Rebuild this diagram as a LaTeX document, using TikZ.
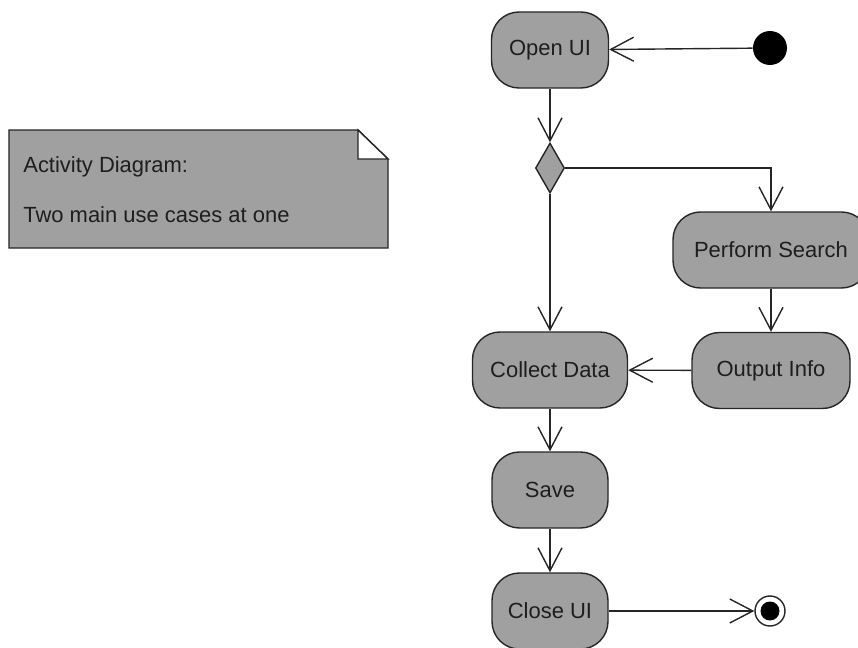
\documentclass[tikz,border=0pt]{standalone}
\usepackage{fontspec}
\setmainfont{Liberation Sans}
\usepackage{tikz}
\usetikzlibrary{arrows.meta,shapes.geometric}
\definecolor{adgray}{HTML}{A0A0A0}
\definecolor{adline}{HTML}{262626}
\definecolor{adtext}{HTML}{1E1E1E}
\tikzset{
  act/.style={draw=adline, fill=adgray, rounded corners=0.55cm, line width=0.8pt,
              minimum height=1.52cm, inner sep=0pt, text=adtext,
              font=\fontsize{12.5}{15}\selectfont},
  decide/.style={diamond, draw=adline, fill=adgray, line width=0.8pt,
                 minimum width=0.58cm, minimum height=1cm, inner sep=0pt},
  startdot/.style={circle, fill=black, minimum size=0.68cm, inner sep=0pt},
  enddot/.style={circle, draw=adline, fill=white, line width=0.8pt,
                 minimum size=0.6cm, inner sep=0pt},
  flow/.style={-{Straight Barb[length=0.46cm, width=0.48cm]}, draw=adline, line width=0.8pt},
  notetxt/.style={anchor=base west, inner sep=0pt, text=adtext,
                  font=\fontsize{12.5}{15}\selectfont},
}

\begin{document}
\begin{tikzpicture}
  \useasboundingbox (0,0) rectangle (17.16,-12.96);

  % note
  \draw[draw=adline, fill=adgray, line width=0.8pt]
    (0.18,-2.6) -- (7.16,-2.6) -- (7.76,-3.18) -- (7.76,-4.96) -- (0.18,-4.96) -- cycle;
  \draw[draw=adline, fill=white, line width=0.8pt]
    (7.16,-2.6) -- (7.16,-3.18) -- (7.76,-3.18) -- cycle;
  \node[notetxt] (notehead) at (0.46,-3.44) {Activity Diagram:};
  \node[notetxt] (notebody) at (0.46,-4.44) {Two main use cases at one};

  % activities
  \node[startdot] (init) at (15.4,-0.96) {};
  \node[act, minimum width=2.34cm] (open) at (11.0,-1.0) {Open UI};
  \node[decide] (dec) at (11.0,-3.36) {};
  \node[act, minimum width=3.92cm] (search) at (15.42,-5.0) {Perform Search};
  \node[act, minimum width=3.16cm] (output) at (15.42,-7.41) {Output Info};
  \node[act, minimum width=3.1cm] (collect) at (11.0,-7.4) {Collect Data};
  \node[act, minimum width=2.32cm] (save) at (11.0,-9.8) {Save};
  \node[act, minimum width=2.32cm] (close) at (11.0,-12.22) {Close UI};
  \node[enddot] (final) at (15.4,-12.22) {};
  \fill[black] (final.center) circle (0.19cm);

  \draw[flow] (init) -- (open);
  \draw[flow] (open) -- (dec);
  \draw[flow] (dec.east) -| (search.north);
  \draw[flow] (dec.south) -- (collect.north);
  \draw[flow] (search) -- (output);
  \draw[flow] (output) -- (collect);
  \draw[flow] (collect) -- (save);
  \draw[flow] (save) -- (close);
  \draw[flow] (close) -- (final);
\end{tikzpicture}
\end{document}
